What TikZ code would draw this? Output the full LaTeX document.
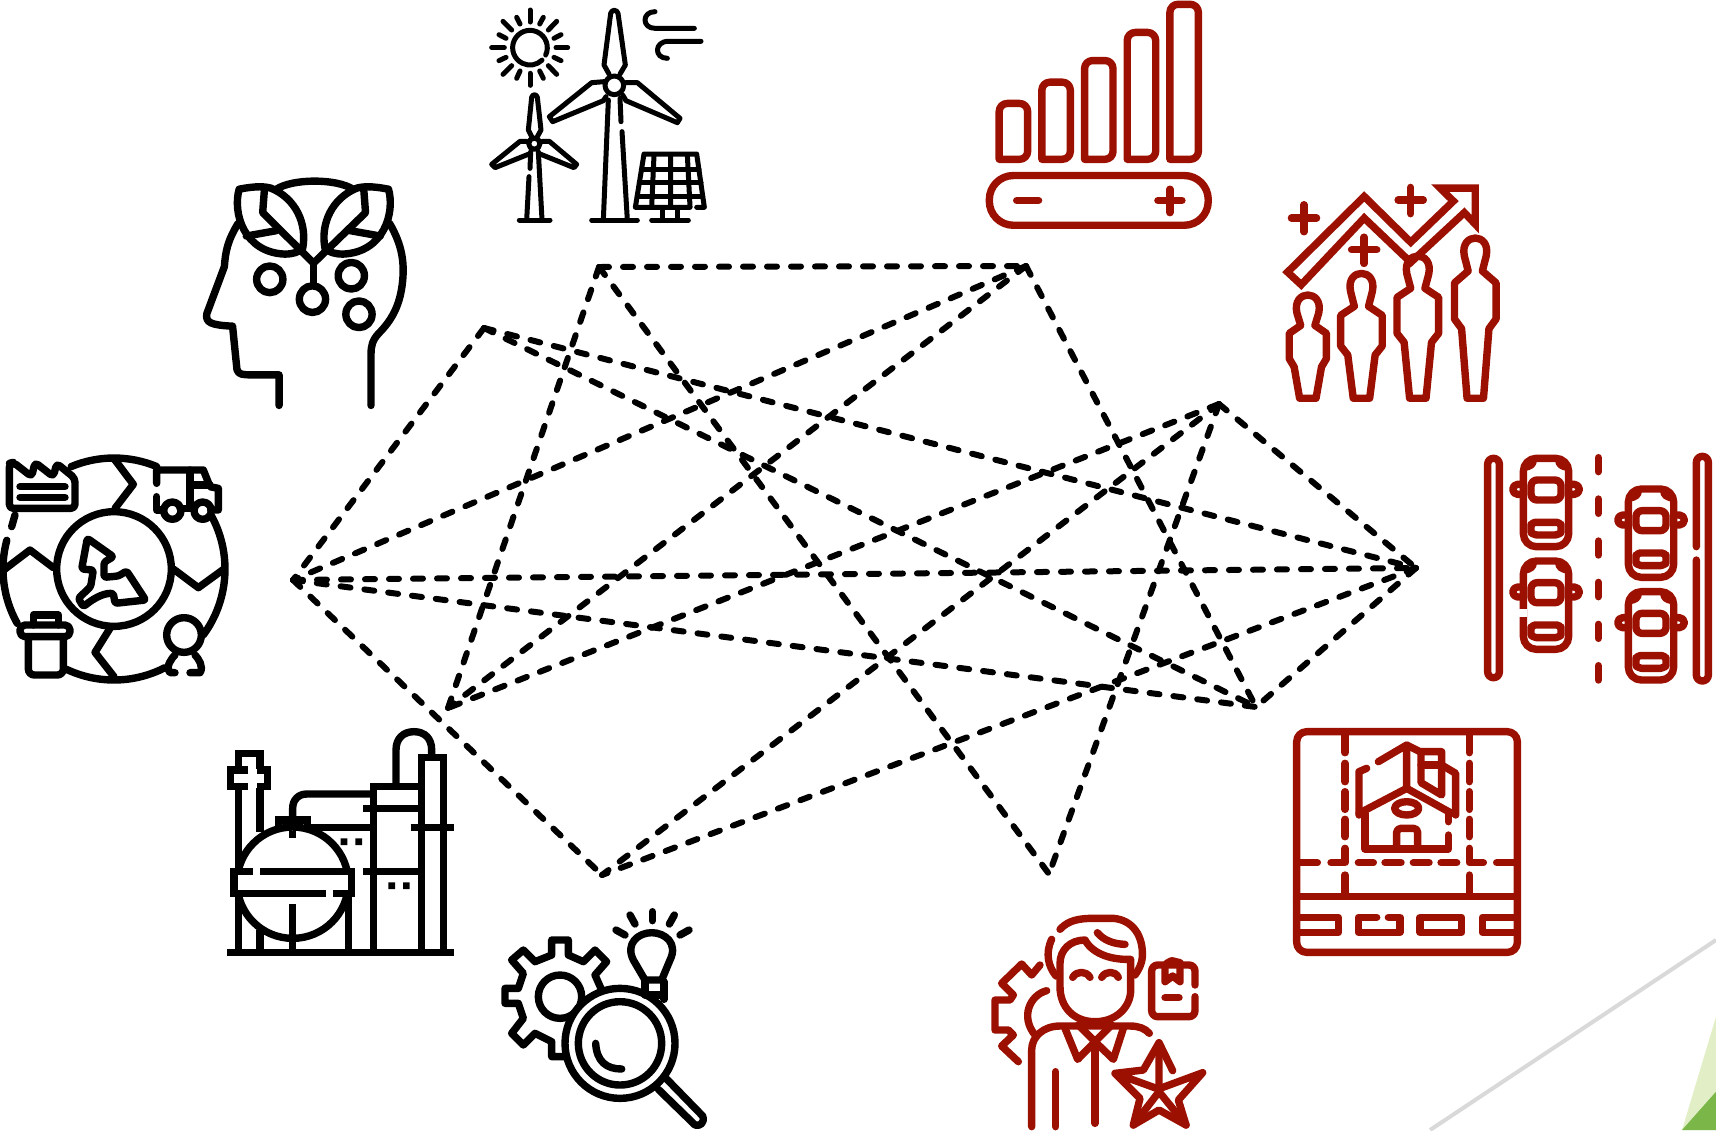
\documentclass[tikz,border=0pt]{standalone}
\usetikzlibrary{calc}
\definecolor{iconred}{RGB}{155,16,0}
\definecolor{lightgreen}{RGB}{226,239,198}
\definecolor{darkgreen}{RGB}{122,182,72}
\definecolor{edgegray}{RGB}{217,217,217}
\tikzset{
  qscale/.style={x=0.2736pt,y=-0.1802pt},
  tscale/.style={x=0.16667pt,y=-0.16667pt},
  iconline/.style={line width=3.7pt,line cap=round,line join=round},
  blackicon/.style={iconline,draw=black},
  redicon/.style={iconline,draw=iconred},
  link/.style={draw=black,line width=3pt,line cap=round,dash pattern=on 5pt off 7pt},
  caricon/.pic={
    \draw[redicon,rounded corners=6.5pt] (-68,0) rectangle (68,265);
    \draw[redicon,rounded corners=3pt] (-45,65) rectangle (45,125);
    \draw[redicon,rounded corners=2pt] (-45,192) -- (45,192) -- (45,210) .. controls (45,225) and (30,230) .. (15,230) -- (-15,230) .. controls (-30,230) and (-45,225) .. (-45,210) -- cycle;
    \draw[redicon] (-68,78) -- (-85,78) arc[start angle=-90,end angle=-270,radius=15] -- (-68,108);
    \draw[redicon] (68,108) -- (85,108) arc[start angle=90,end angle=-90,radius=15] -- (68,78);
    \draw[redicon,line width=2.6pt] (-35,5) .. controls (-35,20) and (-45,28) .. (-65,30);
    \draw[redicon,line width=2.6pt] (35,5) .. controls (35,20) and (45,28) .. (65,30);
  }
}
\newcommand{\PersonFig}[7]{%
  \draw[redicon,miter limit=4] (#1-15,1105) -- (#1+15,1105) -- (#1+25,#6) -- (#1+#7,#5) -- (#1+#7,#4) -- (#1+13,#3)
   -- (#1+20,#2+50) .. controls (#1+29,#2-16) and (#1-29,#2-16) .. (#1-20,#2+50)
   -- (#1-13,#3) -- (#1-#7,#4) -- (#1-#7,#5) -- (#1-25,#6) -- cycle;
}
\newcommand{\GlobeArc}[2]{\draw[blackicon] ([shift={(342,372)}]#1:333) arc[start angle=#1,end angle=#2,radius=333];}
\begin{document}
\begin{tikzpicture}[x=0.5pt,y=-0.5pt]
\useasboundingbox (0,0) rectangle (1716,1130);
% corner decoration
\draw[edgegray,line width=2pt] (1430,1130) -- (1716,940);
\begin{scope}[shift={(1596,1010)},tscale]
  \fill[lightgreen] (360,20) -- (258,360) -- (360,360) -- cycle;
  \fill[darkgreen] (360,245) -- (258,360) -- (360,360) -- cycle;
\end{scope}
% network
\coordinate (A) at (599,267);
\coordinate (B) at (1026,266);
\coordinate (C) at (484,328);
\coordinate (D) at (1219,404);
\coordinate (E) at (293,580);
\coordinate (F) at (1416,568);
\coordinate (G) at (448,708);
\coordinate (H) at (1256,707);
\coordinate (I) at (602,875);
\coordinate (J) at (1049,874);
\foreach \p/\q in {A/B,A/G,A/J,B/E,B/G,B/H,C/E,C/F,C/H,D/F,D/G,D/I,D/J,E/F,E/H,E/I,F/H,F/I}
  \draw[link] (\p) -- (\q);
% turbines, sun, wind, solar
\begin{scope}[shift={(480,0)},tscale,blackicon,line width=2.5pt]
  \draw (197,165) arc[start angle=25,end angle=-314,radius=52];
  \foreach \a/\b/\c/\d in {150/30/150/66,35/143/73/143,228/143/263/143,150/220/150/256,69/64/95/90,230/64/205/90,69/223/95/197,230/223/205/197,110/52/120/72,190/52/179/72,57/104/78/115,243/104/222/115,57/182/78/172,243/182/222/172,110/235/120/213,190/235/179/213}
    \draw (\a,\b) -- (\c,\d);
  \draw (525,35) .. controls (485,35) and (485,85) .. (525,85) -- (643,85);
  \draw (663,124) -- (565,124) .. controls (522,124) and (522,175) .. (562,175);
  \draw (403,256) circle[radius=28];
  \draw (387,222) -- (372,195) -- (392,40) .. controls (395,28) and (411,28) .. (414,40) -- (436,195) -- (420,222);
  \draw (372,245) -- (335,248) -- (208,350) -- (218,365) -- (370,302) -- (378,290);
  \draw (437,248) -- (472,248) -- (600,355) -- (592,368) -- (438,302) -- (428,285);
  \draw (385,300) -- (370,660);
  \draw (420,295) -- (423,365);
  \draw (426,395) -- (442,660);
  \draw (335,660) -- (472,660);
  \draw (163,431) circle[radius=17];
  \draw (155,410) -- (145,390) -- (155,292) .. controls (157,282) and (170,282) .. (172,292) -- (183,390) -- (172,410);
  \draw (140,424) -- (120,424) -- (35,493) -- (45,503) -- (147,462);
  \draw (187,424) -- (208,424) -- (290,493) -- (282,503) -- (180,462);
  \draw (152,455) -- (150,505);
  \draw (147,530) -- (140,660);
  \draw (175,455) -- (186,660);
  \draw (118,660) -- (210,660);
  \draw (630,622) -- (466,622) -- (492,462) -- (650,462) -- (673,622) -- (650,622);
  \draw (522,465) -- (515,620) (572,465) -- (572,620) (622,465) -- (630,620);
  \draw (484,508) -- (657,508) (478,548) -- (663,548) (472,590) -- (668,590);
  \draw (548,625) -- (548,660) (592,625) -- (592,660);
  \draw (515,660) -- (625,660);
\end{scope}
% head with leaves
\begin{scope}[shift={(0,0)},qscale,blackicon]
  \draw (435,620) .. controls (415,670) and (412,700) .. (410,740) -- (378,870) .. controls (375,895) and (385,902) .. (425,905) -- (433,1025) .. controls (435,1040) and (445,1040) .. (460,1040) -- (510,1040) -- (510,1125);
  \draw (712,620) .. controls (735,680) and (740,730) .. (735,790) .. controls (730,850) and (715,890) .. (692,925) .. controls (680,945) and (678,960) .. (678,985) -- (678,1125);
  \draw (505,525) .. controls (535,495) and (615,495) .. (645,525);
  \draw (437,525) .. controls (470,515) and (485,518) .. (495,522) .. controls (540,550) and (562,620) .. (553,690) .. controls (545,700) and (535,705) .. (520,705) .. controls (445,700) and (425,590) .. (437,525) -- cycle;
  \draw (710,525) .. controls (677,515) and (662,518) .. (652,522) .. controls (607,550) and (585,620) .. (594,690) .. controls (602,700) and (612,705) .. (627,705) .. controls (702,700) and (722,590) .. (710,525) -- cycle;
  \draw (483,530) -- (480,590) -- (573,730) -- (668,590) -- (665,530);
  \draw (450,655) -- (505,640) (640,640) -- (695,655);
  \draw (573,730) -- (573,790);
  \draw (571,830) ellipse[x radius=24,y radius=37];
  \draw (493,775) ellipse[x radius=24,y radius=37];
  \draw (642,765) ellipse[x radius=24,y radius=37];
  \draw (656,872) ellipse[x radius=24,y radius=37];
\end{scope}
% globe
\begin{scope}[shift={(0,445)},tscale,blackicon]
  \GlobeArc{-112.7}{-67.4}
  \GlobeArc{-28.5}{36.5}
  \GlobeArc{62.8}{115.5}
  \GlobeArc{150.7}{195}
  \draw (45,210) -- (35,245);
  \draw (342,372) circle[radius=172];
  \draw (345,45) -- (400,118) -- (345,190);
  \draw (520,372) -- (595,428) -- (672,372);
  \draw (330,550) -- (285,622) -- (342,695);
  \draw (15,372) -- (90,315) -- (160,368);
  \draw[rounded corners=2pt] (28,55) -- (28,190) -- (225,190) -- (225,100) -- (170,55) -- (160,95) -- (105,52) -- (95,95) -- (40,52) -- cycle;
  \draw (60,125) -- (195,125) (60,157) -- (195,157);
  \draw (470,115) -- (470,75) -- (610,75) -- (630,125) -- (655,130) -- (655,195) -- (632,195);
  \draw (470,155) -- (470,195) -- (490,195);
  \draw (570,75) -- (570,190) (570,120) -- (630,120) (540,190) -- (582,190);
  \draw (517,197) circle[radius=26] (608,197) circle[radius=26];
  \draw[rounded corners=1.2pt] (262,280) -- (340,335) -- (312,352) -- (312,397) -- (355,393) -- (380,378) -- (437,465) -- (345,475) -- (340,445) .. controls (305,445) and (275,465) .. (250,485) -- (235,460) -- (272,425) -- (280,375) -- (245,372) -- cycle;
  \draw (100,540) -- (100,510) -- (175,510) -- (175,540);
  \draw[rounded corners=2.5pt] (60,540) rectangle (210,575);
  \draw[rounded corners=3pt] (85,575) -- (85,690) -- (190,690) -- (190,575);
  \draw (552,570) circle[radius=52];
  \draw (525,683) -- (510,683) .. controls (495,665) and (515,640) .. (525,630);
  \draw (570,683) -- (600,683) .. controls (612,665) and (595,640) .. (585,630);
\end{scope}
% refinery
\begin{scope}[shift={(220,720)},tscale,draw=black,line width=3.7pt,line cap=butt,line join=miter]
  \fill (22,686) rectangle (702,708);
  \draw (55,205) -- (55,445) (120,205) -- (120,335) (55,530) -- (55,690) (120,630) -- (120,690);
  \draw (55,148) -- (55,100) -- (120,100) -- (120,148);
  \draw (85,150) -- (32,150) -- (32,200) -- (85,200);
  \draw (110,150) -- (142,150) -- (142,200) -- (110,200);
  \draw[fill=white] (218,488) circle[radius=167];
  \fill[white] (42,452) rectangle (395,522);
  \draw (42,445) -- (42,530) (395,445) -- (395,530);
  \draw (32,455) -- (98,455) (120,455) -- (405,455);
  \draw (32,520) -- (318,520) (340,520) -- (405,520);
  \draw (175,325) -- (175,300) -- (262,300) -- (262,328);
  \fill (208,334) rectangle (228,354);
  \draw (218,295) -- (218,265) .. controls (218,240) and (235,222) .. (260,222) -- (450,222);
  \draw (218,553) -- (218,690);
  \draw (385,530) -- (385,690);
  \draw (460,190) -- (460,690);
  \draw (450,200) -- (605,200);
  \draw (605,110) -- (605,690) (670,102) -- (670,690);
  \draw (595,112) -- (680,112);
  \draw (430,265) -- (600,265) (430,455) -- (600,455) (270,322) -- (460,322) (572,322) -- (702,322);
  \draw (528,195) -- (528,90) .. controls (528,55) and (550,35) .. (582,35) .. controls (614,35) and (635,55) .. (635,90) -- (635,105);
  \fill (362,355) rectangle (382,375) (406,355) rectangle (426,375) (505,487) rectangle (525,507) (549,487) rectangle (569,507);
\end{scope}
% gear, bulb, magnifier
\begin{scope}[shift={(490,900)},tscale,blackicon]
  \draw (225,470) -- (185,470) -- (185,425) -- (135,400) -- (100,435) -- (65,400) -- (100,355) -- (85,310) -- (45,310) -- (45,265) -- (85,265) -- (100,220) -- (65,180) -- (100,150) -- (135,185) -- (185,165) -- (185,120) -- (235,120) -- (235,165) -- (280,185) -- (315,150) -- (350,185) -- (315,225) -- (335,270);
  \draw (210,290) circle[radius=65];
  \draw[fill=white] (390,430) circle[radius=165];
  \draw (390,430) circle[radius=125];
  \draw (317,430) .. controls (320,485) and (350,507) .. (395,507);
  \draw (530,537) -- (638,648) .. controls (645,668) and (630,680) .. (615,675) -- (505,568);
  \draw (465,240) -- (430,180) .. controls (405,130) and (445,98) .. (485,98) .. controls (525,98) and (565,130) .. (540,180) -- (515,240) -- cycle;
  \draw (465,245) -- (465,272) (522,245) -- (522,298) (465,285) -- (522,285);
  \foreach \a/\b/\c/\d in {420/45/435/72,487/35/487/62,553/45/538/72,378/90/405/105,597/90/570/105}
    \draw (\a,\b) -- (\c,\d);
\end{scope}
% bars and battery
\begin{scope}[shift={(858,0)},qscale,redicon]
  \foreach \l/\t in {258/287,336/228,414/168,492/90,570/12}
    \draw[rounded corners=4pt] (\l,442) -- (\l,\t) -- (\l+52,\t) -- (\l+52,442) [sharp corners] -- cycle;
  \draw[rounded corners=12pt] (240,487) rectangle (640,625);
  \draw (290,556) -- (330,556);
  \draw (570,525) -- (570,590) (548,556) -- (592,556);
\end{scope}
% people and growth arrow
\begin{scope}[shift={(858,0)},qscale,redicon,line join=miter]
  \draw[miter limit=6] (785,755) -- (925,545) -- (1010,672) -- (1088,558) -- (1064,522) -- (1128,522) -- (1128,622) -- (1108,590) -- (1010,728) -- (925,605) -- (810,790) -- cycle;
  \draw (815,568) -- (815,643) (792,605) -- (838,605);
  \draw (1010,520) -- (1010,593) (987,555) -- (1033,555);
  \draw (925,658) -- (925,731) (902,693) -- (948,693);
  \PersonFig{822}{818}{903}{925}{995}{1018}{34}
  \PersonFig{920}{758}{850}{875}{960}{985}{38}
  \PersonFig{1023}{710}{800}{825}{925}{950}{38}
  \PersonFig{1128}{660}{752}{785}{885}{912}{38}
\end{scope}
% road with cars
\begin{scope}[shift={(1476,445)},tscale,redicon]
  \draw[rounded corners=2.85pt] (35,40) rectangle (70,698);
  \draw (661,305) -- (661,52) arc[start angle=180,end angle=360,radius=18] -- (697,690) arc[start angle=0,end angle=180,radius=18] -- (661,345);
  \foreach \a/\b in {38/80,162/205,288/330,412/455,538/580,662/705}
    \draw (367,\a) -- (367,\b);
  \pic at (210,40) {caricon};
  \pic at (210,348) {caricon};
  \draw[white,line width=4pt,line cap=butt] (142,492) -- (142,516);
  \pic at (525,132) {caricon};
  \pic at (525,440) {caricon};
\end{scope}
% house plot
\begin{scope}[shift={(1285,720)},tscale,redicon]
  \draw[rounded corners=5pt] (35,35) rectangle (697,697);
  \draw (35,530) -- (697,530);
  \draw (35,592) -- (160,592) -- (160,637) -- (35,637);
  \draw (275,592) -- (220,592) -- (220,637) -- (345,637) -- (345,592) -- (310,592);
  \draw (405,592) rectangle (530,637);
  \draw (697,592) -- (592,592) -- (592,637) -- (697,637);
  \foreach \x in {180,553} {
    \foreach \a/\b in {40/98,130/185,215/268,298/350,465/525}
      \draw (\x,\a) -- (\x,\b);
  }
  \draw (180,385) -- (180,428) -- (138,428);
  \draw (553,385) -- (553,428) -- (595,428);
  \foreach \a/\b in {40/97,220/265,300/348,385/432,468/515,635/692}
    \draw (\a,428) -- (\b,428);
  \draw (240,280) -- (240,387) -- (490,387) -- (490,345);
  \draw (222,280) -- (365,205) -- (500,280);
  \draw (222,285) -- (222,155) -- (245,145);
  \draw (280,125) -- (365,75) -- (365,205);
  \draw (365,75) -- (405,95) -- (470,95) -- (470,135) -- (512,160) -- (512,285);
  \draw (408,95) -- (408,188) -- (470,225) -- (470,135);
  \draw (408,135) -- (470,135);
  \draw (490,280) -- (490,305);
  \draw (365,265) ellipse[x radius=36,y radius=20];
  \draw[rounded corners=2pt] (335,385) -- (335,325) -- (398,325) -- (398,385);
\end{scope}
% engineer
\begin{scope}[shift={(980,900)},tscale,redicon]
  \draw (240,88) .. controls (265,60) and (300,55) .. (340,55) -- (400,55) .. controls (460,60) and (490,110) .. (487,170) .. controls (485,195) and (475,210) .. (465,225);
  \draw (215,118) .. controls (195,160) and (205,200) .. (228,228);
  \draw (240,260) -- (240,190) .. controls (240,150) and (270,120) .. (315,120) .. controls (340,165) and (400,180) .. (452,178) -- (452,270) .. controls (452,320) and (410,365) .. (345,365) .. controls (280,365) and (240,320) .. (240,260) -- cycle;
  \draw (352,98) .. controls (370,120) and (400,132) .. (435,133);
  \draw (278,232) .. controls (290,212) and (318,212) .. (330,232);
  \draw (365,232) .. controls (377,212) and (405,212) .. (415,232);
  \draw (155,680) -- (155,450) .. controls (155,410) and (190,378) .. (240,378) -- (450,378) .. controls (475,378) and (495,385) .. (508,400);
  \draw (255,385) -- (293,478) -- (345,425) -- (400,478) -- (430,385);
  \draw (295,375) -- (345,425) -- (395,375);
  \draw (345,425) -- (345,670);
  \draw (227,515) -- (227,680);
  \draw (115,485) -- (65,438) -- (100,405) -- (85,390) -- (45,390) -- (45,300) -- (90,300) -- (100,285) -- (65,250) -- (125,192) -- (155,225) -- (180,195);
  \draw (200,272) .. controls (150,285) and (120,350) .. (165,405);
  \draw[rounded corners=3pt] (645,255) -- (645,195) -- (515,195) -- (515,350) -- (645,350) -- (645,290);
  \draw (555,195) -- (555,245) -- (578,228) -- (600,245) -- (600,190);
  \draw (560,190) -- (575,182) -- (600,188);
  \draw (555,293) -- (597,293);
  \draw (578,512) -- (537,428) -- (490,510) -- (405,520) -- (480,595) -- (460,675) -- (537,630) -- (618,675) -- (595,600) -- (668,518) -- (535,567) -- (405,520);
  \draw (537,430) -- (537,575) -- (460,675) (537,575) -- (618,675);
\end{scope}
\end{tikzpicture}
\end{document}
